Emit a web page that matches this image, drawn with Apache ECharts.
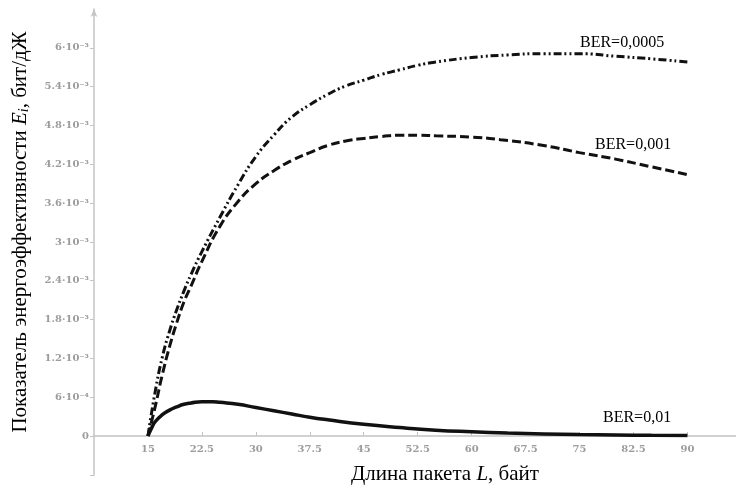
<!DOCTYPE html>
<html>
<head>
<meta charset="utf-8">
<script src="https://cdn.jsdelivr.net/npm/echarts@6/dist/echarts.min.js"></script>
<style>
  html, body { margin: 0; padding: 0; background: #fff; }
  #chart { width: 736px; height: 487px; }
</style>
</head>
<body>
<div id="chart"></div>
<script>
// packet length L, bytes / efficiency in units of 10^-3 bit/J
var lenBer0005 = [15, 16, 17, 18, 19, 20, 21, 22.5, 25, 27.5, 30, 32.5, 35, 37.5, 40, 42.5, 45, 47.5, 50, 52.5, 55, 60, 65, 70, 75, 80, 85, 90];
var effBer0005 = [0, 0.68, 1.22, 1.62, 1.95, 2.24, 2.5, 2.85, 3.38, 3.88, 4.32, 4.65, 4.93, 5.12, 5.28, 5.41, 5.5, 5.59, 5.66, 5.73, 5.78, 5.85, 5.89, 5.91, 5.91, 5.87, 5.83, 5.78];

var lenBer001 = [15, 16, 17, 18, 19, 20, 21, 22.5, 25, 27.5, 30, 32.5, 35, 37.5, 40, 42.5, 45, 47.5, 50, 52.5, 55, 60, 64, 70, 75, 80, 85, 90];
var effBer001 = [0, 0.45, 0.95, 1.38, 1.75, 2.07, 2.32, 2.7, 3.24, 3.62, 3.9, 4.1, 4.26, 4.38, 4.49, 4.56, 4.6, 4.63, 4.65, 4.65, 4.64, 4.62, 4.58, 4.49, 4.38, 4.28, 4.16, 4.04];

var lenBer01 = [15, 15.5, 16, 17, 18, 19, 20, 21, 22.5, 24, 25, 27.5, 30, 32.5, 35, 37.5, 40, 45, 50, 55, 60, 65, 70, 75, 80, 85, 90];
var effBer01 = [0, 0.12, 0.22, 0.33, 0.4, 0.45, 0.49, 0.51, 0.53, 0.53, 0.52, 0.49, 0.44, 0.39, 0.34, 0.29, 0.25, 0.18, 0.13, 0.09, 0.065, 0.045, 0.032, 0.022, 0.016, 0.011, 0.008];

var xTickValues = [15, 22.5, 30, 37.5, 45, 52.5, 60, 67.5, 75, 82.5, 90];
var xTickLabels = ['15', '22.5', '30', '37.5', '45', '52.5', '60', '67.5', '75', '82.5', '90'];
var yTickValues = [0, 0.6, 1.2, 1.8, 2.4, 3, 3.6, 4.2, 4.8, 5.4, 6];
var yTickLabels = ['0', '6·10⁻⁴', '1.2·10⁻³', '1.8·10⁻³', '2.4·10⁻³', '3·10⁻³', '3.6·10⁻³', '4.2·10⁻³', '4.8·10⁻³', '5.4·10⁻³', '6·10⁻³'];

function pairs(xs, ys) {
    return xs.map(function (x, i) { return [x, ys[i]]; });
}

var axisGrey = '#c4c4c4';
var tickFont = { color: '#9c9c9c', fontFamily: 'DejaVu Serif', fontSize: 10, fontWeight: 'bold' };
var serif = 'Liberation Serif';

var chart = echarts.init(document.getElementById('chart'));
var option = {
    animation: false,
    grid: [
        { left: 94, right: 0, top: 9, bottom: 51, outerBoundsMode: 'none', containLabel: false },
        // the stub of the y axis below zero
        { left: 94, right: 0, top: 436, bottom: 12, outerBoundsMode: 'none', containLabel: false }
    ],
    xAxis: [{
        type: 'value',
        gridIndex: 0,
        min: 7.5,
        max: 96.75,
        interval: 7.5,
        axisLine: { lineStyle: { color: axisGrey, width: 1.5 } },
        axisTick: { inside: true, length: 4, lineStyle: { color: axisGrey }, customValues: xTickValues },
        axisLabel: Object.assign({
            margin: 8,
            customValues: xTickValues,
            formatter: function (v) {
                var i = xTickValues.indexOf(v);
                return i >= 0 ? xTickLabels[i] : '';
            }
        }, tickFont),
        splitLine: { show: false }
    }, {
        type: 'value',
        gridIndex: 1,
        min: 7.5,
        max: 96.75,
        show: false
    }],
    yAxis: [{
        type: 'value',
        gridIndex: 0,
        min: 0,
        max: 6.6,
        interval: 0.6,
        axisLine: { show: true, symbol: ['none', 'arrow'], symbolSize: [5, 8], lineStyle: { color: axisGrey, width: 1.5 } },
        axisTick: { show: true, length: 4, lineStyle: { color: axisGrey }, customValues: yTickValues },
        axisLabel: Object.assign({
            margin: 5,
            customValues: yTickValues,
            formatter: function (v) {
                var i = Math.round(v / 0.6);
                return yTickLabels[i] || '';
            }
        }, tickFont),
        splitLine: { show: false }
    }, {
        type: 'value',
        gridIndex: 1,
        min: -0.6,
        max: 0,
        interval: 0.6,
        axisLine: { show: true, lineStyle: { color: axisGrey, width: 1.5 } },
        axisTick: { show: true, length: 4, lineStyle: { color: axisGrey }, customValues: [-0.6] },
        axisLabel: { show: false },
        splitLine: { show: false }
    }],
    series: [{
        name: 'BER=0,0005',
        type: 'line',
        smooth: true,
        showSymbol: false,
        data: pairs(lenBer0005, effBer0005),
        lineStyle: { color: '#111', width: 3, type: [8, 3, 2, 3, 2, 3] }
    }, {
        name: 'BER=0,001',
        type: 'line',
        smooth: true,
        showSymbol: false,
        data: pairs(lenBer001, effBer001),
        lineStyle: { color: '#111', width: 3, type: [9, 4] }
    }, {
        name: 'BER=0,01',
        type: 'line',
        smooth: true,
        showSymbol: false,
        data: pairs(lenBer01, effBer01),
        lineStyle: { color: '#111', width: 3.5 }
    }],
    graphic: [{
        type: 'text', left: 580, top: 35,
        style: { text: 'BER=0,0005', font: '16px ' + serif, fill: '#000' }
    }, {
        type: 'text', left: 595, top: 137,
        style: { text: 'BER=0,001', font: '16px ' + serif, fill: '#000' }
    }, {
        type: 'text', left: 603, top: 410,
        style: { text: 'BER=0,01', font: '16px ' + serif, fill: '#000' }
    }, {
        type: 'text', x: 445, y: 474,
        style: {
            text: '{a|Длина пакета }{i|L}{a|, байт}',
            align: 'center', verticalAlign: 'middle',
            rich: {
                a: { fontFamily: serif, fontSize: 21, fill: '#000' },
                i: { fontFamily: serif, fontSize: 21, fontStyle: 'italic', fill: '#000' }
            }
        }
    }, {
        type: 'text', x: 20, y: 232, rotation: Math.PI / 2,
        style: {
            text: '{a|Показатель энергоэффективности }{i|E}{s|i}{a|, бит/дЖ}',
            align: 'center', verticalAlign: 'middle',
            rich: {
                a: { fontFamily: serif, fontSize: 21, fill: '#000' },
                i: { fontFamily: serif, fontSize: 21, fontStyle: 'italic', fill: '#000' },
                s: { fontFamily: serif, fontSize: 14, fontStyle: 'italic', fill: '#000', verticalAlign: 'bottom', padding: [8, 0, 0, 0] }
            }
        }
    }]
};
chart.setOption(option);
</script>
</body>
</html>
